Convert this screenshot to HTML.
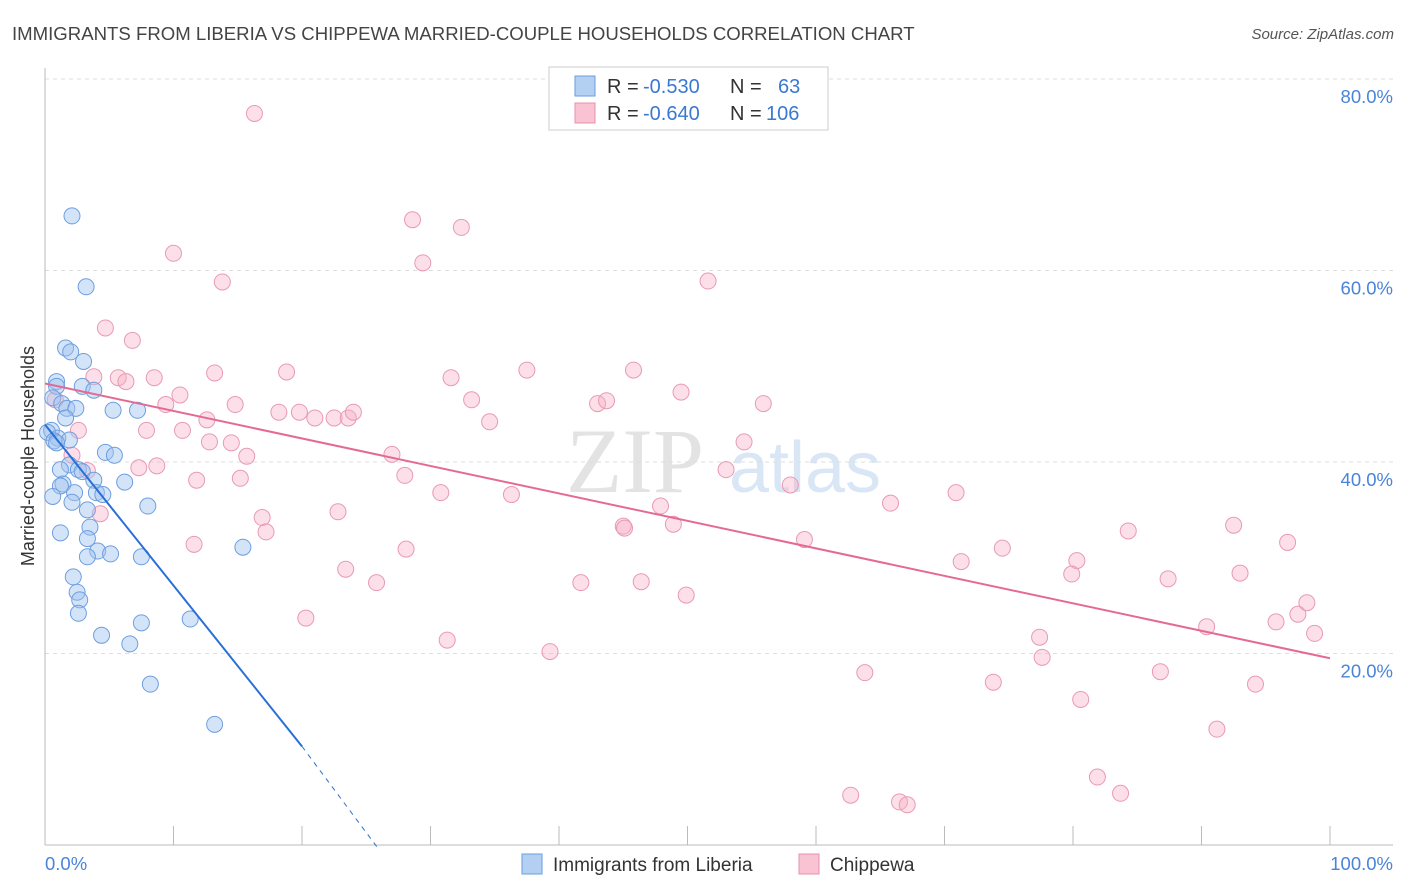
<!DOCTYPE html>
<html><head><meta charset="utf-8"><style>
body{margin:0;background:#fff;font-family:"Liberation Sans",sans-serif;}
svg{display:block}
</style></head><body>
<svg id="c" width="1406" height="892" xmlns="http://www.w3.org/2000/svg">
<text x="12" y="40" font-size="18.6" fill="#444">IMMIGRANTS FROM LIBERIA VS CHIPPEWA MARRIED-COUPLE HOUSEHOLDS CORRELATION CHART</text>
<text x="1394" y="39" font-size="15" fill="#555" font-style="italic" text-anchor="end">Source: ZipAtlas.com</text>
<text x="34" y="456" font-size="18" fill="#333" text-anchor="middle" transform="rotate(-90 34 456)">Married-couple Households</text>
<g><text x="635" y="492" font-size="92" fill="#ddd" font-family="Liberation Serif" text-anchor="middle" opacity="0.8">ZIP</text><text x="805" y="492" font-size="72" fill="#c9dcf2" text-anchor="middle" opacity="0.7">atlas</text></g>
<g id="grid"></g><g id="axes"></g><g id="pts"></g><g id="trend"></g>
<g>
<rect x="549" y="67" width="279" height="63" fill="#fff" stroke="#ccc"/>
<rect x="575" y="76" width="20" height="20" fill="#b3cff2" stroke="#6a9ee0"/>
<rect x="575" y="103" width="20" height="20" fill="#f9c3d3" stroke="#e890aa"/>
<text x="607" y="93" font-size="20" fill="#333">R = <tspan x="643" fill="#3a78d4">-0.530</tspan><tspan x="730">N = </tspan><tspan x="778" fill="#3a78d4">63</tspan></text>
<text x="607" y="120" font-size="20" fill="#333">R = <tspan x="643" fill="#3a78d4">-0.640</tspan><tspan x="730">N = </tspan><tspan x="766" fill="#3a78d4">106</tspan></text>
</g>
<g>
<rect x="522" y="854" width="20" height="20" fill="#b3cff2" stroke="#6a9ee0"/>
<text x="553" y="871" font-size="19" fill="#333">Immigrants from Liberia</text>
<rect x="799" y="854" width="20" height="20" fill="#f9c3d3" stroke="#e890aa"/>
<text x="830" y="871" font-size="19" fill="#333">Chippewa</text>
</g>
</svg>
<script>
const yTicks=[20,40,60,80];
const xTickLabels=["0.0%","100.0%"];
const blueX=[2.1,3.2,1.6,2.0,3.0,0.9,0.9,2.9,3.8,0.6,1.3,1.7,2.4,5.3,7.2,1.6,0.5,0.2,1.0,1.9,0.7,0.9,4.7,5.4,1.9,1.2,2.6,2.9,3.8,6.2,1.4,1.2,2.3,4.0,4.5,0.6,2.1,3.3,8.0,3.5,1.2,3.3,4.1,5.1,3.3,7.5,15.4,2.2,2.5,2.7,2.6,11.3,7.5,4.4,6.6,8.2,13.2];
const blueY=[65.7,58.3,51.9,51.5,50.5,48.4,47.9,47.9,47.5,46.7,46.1,45.6,45.6,45.4,45.4,44.6,43.3,43.1,42.5,42.3,42.2,42.0,41.0,40.7,39.7,39.2,39.2,39.0,38.1,37.9,37.7,37.5,36.8,36.8,36.6,36.4,35.8,35.0,35.4,33.2,32.6,32.0,30.7,30.4,30.1,30.1,31.1,28.0,26.4,25.6,24.2,23.6,23.2,21.9,21.0,16.8,12.6];
const pinkX=[16.3,28.6,32.4,10.0,29.4,13.8,51.6,4.7,6.8,3.8,5.7,6.3,8.5,13.2,18.8,31.6,37.5,45.8,10.5,9.4,14.8,12.6,18.2,19.8,21.0,22.5,23.6,24.0,33.2,34.6,43.0,43.7,49.5,55.9,0.8,2.6,7.9,10.7,12.8,14.5,15.7,27.0,54.4,7.3,8.7,11.8,15.2,28.0,53.0,58.0,30.8,36.3,47.9,65.8,70.9,4.3,16.9,17.2,22.8,45.0,45.1,48.9,59.1,84.3,92.5,96.7,11.6,28.1,74.5,71.3,80.3,79.9,23.4,25.8,41.7,46.4,87.4,93.0,49.9,20.3,31.3,39.3,77.4,77.6,90.4,95.8,97.5,98.2,98.8,63.8,73.8,86.8,94.2,80.6,91.2,81.9,62.7,83.7,66.5,67.1,2.1,3.3];
const pinkY=[76.4,65.3,64.5,61.8,60.8,58.8,58.9,54.0,52.7,48.9,48.8,48.4,48.8,49.3,49.4,48.8,49.6,49.6,47.0,46.0,46.0,44.4,45.2,45.2,44.6,44.6,44.6,45.2,46.5,44.2,46.1,46.4,47.3,46.1,46.5,43.3,43.3,43.3,42.1,42.0,40.6,40.8,42.1,39.4,39.6,38.1,38.3,38.6,39.2,37.6,36.8,36.6,35.4,35.7,36.8,34.6,34.2,32.7,34.8,33.3,33.1,33.5,31.9,32.8,33.4,31.6,31.4,30.9,31.0,29.6,29.7,28.3,28.8,27.4,27.4,27.5,27.8,28.4,26.1,23.7,21.4,20.2,21.7,19.6,22.8,23.3,24.1,25.3,22.1,18.0,17.0,18.1,16.8,15.2,12.1,7.1,5.2,5.4,4.5,4.2,40.7,39.1];
const blueTrend=[[0,43.9],[20,10.3],[26,-0.5]];
const pinkTrend=[[0,48.2],[100,19.5]];
const NS="http://www.w3.org/2000/svg";
const xs=v=>45+v*12.85, ys=v=>845-v*9.575;
function mk(t,a,p){const e=document.createElementNS(NS,t);for(const k in a)e.setAttribute(k,a[k]);p.appendChild(e);return e;}
const g=document.getElementById('grid'),ax=document.getElementById('axes'),pts=document.getElementById('pts'),tr=document.getElementById('trend');
yTicks.forEach(v=>{const l=mk('line',{x1:45,x2:1393,y1:ys(v),y2:ys(v),stroke:'#ddd','stroke-dasharray':'4 4'},g);


const t=mk('text',{x:1393,y:ys(v)+24,'font-size':18.5,fill:'#4a84d8','text-anchor':'end'},ax);t.textContent=v.toFixed(1)+'%';

});
mk('line',{x1:45,x2:45,y1:68,y2:845,stroke:'#bbb'},ax);
mk('line',{x1:45,x2:1393,y1:845,y2:845,stroke:'#bbb'},ax);
for(let i=0;i<=10;i++){mk('line',{x1:xs(i*10),x2:xs(i*10),y1:826,y2:845,stroke:'#bbb'},ax);}
const t0=mk('text',{x:45,y:870,'font-size':18.5,fill:'#4a84d8'},ax);t0.textContent=xTickLabels[0];


const t1=mk('text',{x:1393,y:870,'font-size':18.5,fill:'#4a84d8','text-anchor':'end'},ax);t1.textContent=xTickLabels[1];


pinkX.forEach((x,i)=>{const c=mk('circle',{cx:xs(x),cy:ys(pinkY[i]),r:8,fill:'rgba(247,176,198,0.4)',stroke:'#e99ab3','stroke-width':1},pts);

});
blueX.forEach((x,i)=>{const c=mk('circle',{cx:xs(x),cy:ys(blueY[i]),r:8,fill:'rgba(160,196,240,0.45)',stroke:'#6e9edf','stroke-width':1},pts);

});
const bl=mk('line',{x1:xs(blueTrend[0][0]),y1:ys(blueTrend[0][1]),x2:xs(blueTrend[1][0]),y2:ys(blueTrend[1][1]),stroke:'#2a6fd6','stroke-width':2},tr);


const bd=mk('line',{x1:xs(blueTrend[1][0]),y1:ys(blueTrend[1][1]),x2:xs(blueTrend[2][0]),y2:ys(blueTrend[2][1]),stroke:'#2a6fd6','stroke-width':1,'stroke-dasharray':'5 5'},tr);


const pl=mk('line',{x1:xs(pinkTrend[0][0]),y1:ys(pinkTrend[0][1]),x2:xs(pinkTrend[1][0]),y2:ys(pinkTrend[1][1]),stroke:'#e46a95','stroke-width':2},tr);


</script>
</body></html>
